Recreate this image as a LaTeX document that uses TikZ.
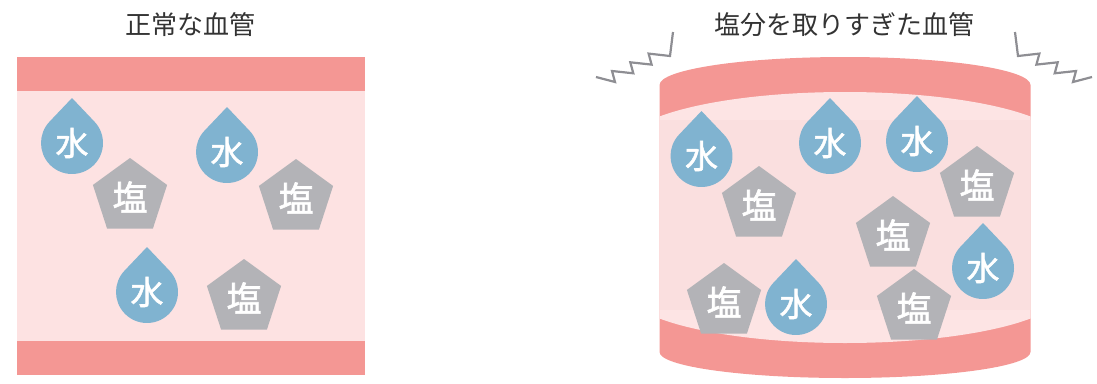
\documentclass[tikz,border=0pt]{standalone}
\usepackage{fontspec}
\newfontfamily\jpfont{Noto Sans CJK JP}
\newfontfamily\jplabel[FakeBold=1.6]{Noto Sans CJK JP}
\usetikzlibrary{shapes.geometric,calc}

\definecolor{bandpink}{HTML}{F49794}
\definecolor{lumenpink}{HTML}{FDE2E2}
\definecolor{capspink}{HTML}{FDE4E4}
\definecolor{bodypink}{HTML}{FADFDF}
\definecolor{dropblue}{HTML}{80B3D0}
\definecolor{saltgray}{HTML}{B3B3B7}
\definecolor{ziggray}{HTML}{8E8E93}
\definecolor{titlegray}{HTML}{333333}

\tikzset{
  vesseltitle/.style={font=\jpfont\fontsize{26}{26}\selectfont, text=titlegray, inner sep=0pt},
  saltbox/.style={regular polygon, regular polygon sides=5, minimum size=78pt,
    inner sep=0pt, fill=saltgray, text=white, font=\jplabel\fontsize{35}{35}\selectfont},
  droptext/.style={inner sep=0pt, text=white, font=\jplabel\fontsize{33}{33}\selectfont},
  zigline/.style={draw=ziggray, line width=2.2pt, line join=miter},
}

% water drop: circle of radius 31 with a point 45 above its centre
\newcommand\waterdrop[3]{%
  \coordinate (#1c) at (#2,#3);
  \fill[dropblue] ($(#1c)+(0,-45)$) -- ($(#1c)+(316.5:31)$)
    arc[start angle=316.5, end angle=583.5, radius=31] -- cycle;
  \node[droptext] (#1) at (#1c) {水};
}

\begin{document}
\begin{tikzpicture}[x=1pt,y=-1pt]
\useasboundingbox (0,0) rectangle (1097,383);

% ---------- normal vessel ----------
\node[vesseltitle] (titleA) at (190.5,25) {正常な血管};
\fill[lumenpink] (17,57) rectangle (365,375);
\fill[bandpink] (17,57) rectangle (365,91);
\fill[bandpink] (17,341) rectangle (365,375);

\waterdrop{wA1}{72}{143}
\waterdrop{wA2}{227}{152}
\waterdrop{wA3}{147}{292}
\node[saltbox] (sA1) at (130,197) {塩};
\node[saltbox] (sA2) at (296,198) {塩};
\node[saltbox] (sA3) at (244,298) {塩};

% ---------- vessel with too much salt ----------
\node[vesseltitle] (titleB) at (844.5,25) {塩分を取りすぎた血管};

% wall of the swollen vessel
\fill[bandpink] (659.5,85) arc[start angle=180, end angle=360, x radius=185.5, y radius=28]
  -- (1030.5,352) arc[start angle=0, end angle=180, x radius=185.5, y radius=26] -- cycle;

% lumen
\begin{scope}
  \clip (659.5,0) rectangle (1030.5,383);
  \fill[capspink] (625,145) arc[start angle=180, end angle=360, x radius=220, y radius=53]
    -- (1065,290) arc[start angle=0, end angle=180, x radius=220, y radius=53] -- cycle;
  \fill[bodypink] (659.5,120) rectangle (1030.5,310);
\end{scope}

\waterdrop{wB1}{701.5}{156}
\waterdrop{wB2}{830}{143}
\waterdrop{wB3}{917}{141}
\waterdrop{wB4}{983}{268}
\waterdrop{wB5}{796}{304}
\node[saltbox] (sB1) at (759,205) {塩};
\node[saltbox] (sB2) at (977,185) {塩};
\node[saltbox] (sB3) at (893,235) {塩};
\node[saltbox] (sB4) at (724,302) {塩};
\node[saltbox] (sB5) at (914,308) {塩};

% strain marks
\draw[zigline] (596,77) -- (615,82) -- (612,71) -- (633.3,73.3) -- (630.3,62.3)
  -- (651.6,64.6) -- (648.6,53.6) -- (670,56) -- (673,32);
\draw[zigline] (1092,77) -- (1073,82) -- (1076,71) -- (1054.7,73.3) -- (1057.7,62.3)
  -- (1036.4,64.6) -- (1039.4,53.6) -- (1018,56) -- (1015,32);
\end{tikzpicture}
\end{document}
